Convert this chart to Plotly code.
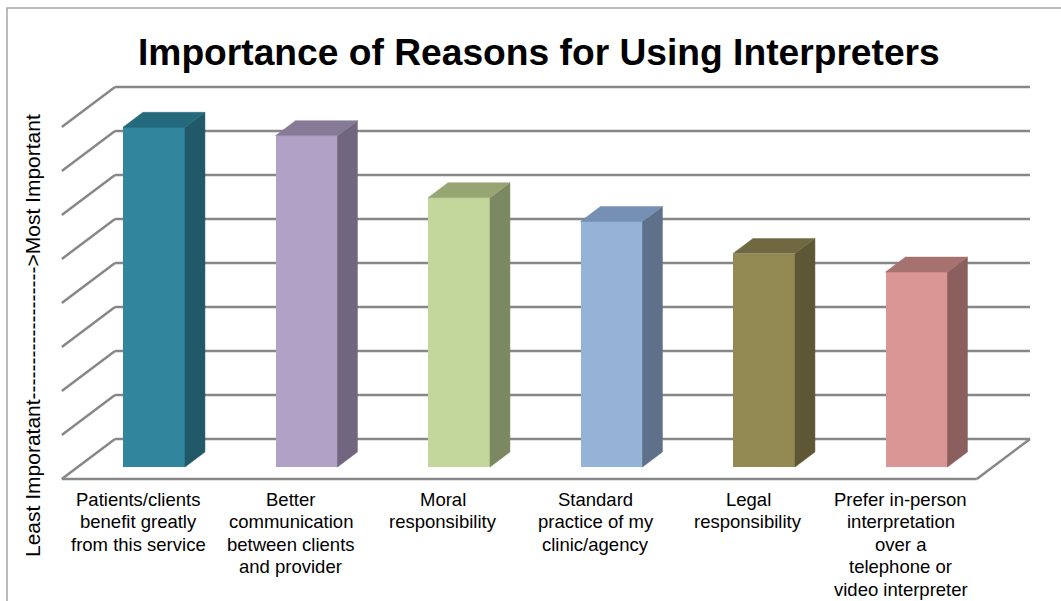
import plotly.graph_objects as go

# ---------------- data ----------------
categories = [
    "Patients/clients<br>benefit greatly<br>from this service",
    "Better<br>communication<br>between clients<br>and provider",
    "Moral<br>responsibility",
    "Standard<br>practice of my<br>clinic/agency",
    "Legal<br>responsibility",
    "Prefer in-person<br>interpretation<br>over a<br>telephone or<br>video interpreter",
]
values = [7.72, 7.53, 6.12, 5.58, 4.85, 4.43]
grid_levels = [0, 1, 2, 3, 4, 5, 6, 7, 8]

front_colors = ["#31859C", "#B2A1C7", "#C3D69B", "#95B3D7", "#938953", "#D99694"]
side_colors = ["#215968", "#71667F", "#7C8862", "#5F718A", "#5E5735", "#8B5F5E"]
top_colors = ["#256A7C", "#877A96", "#96A572", "#7590B3", "#6F6840", "#A67270"]

title = "Importance of Reasons for Using Interpreters"
ytitle = "Least Imporatant" + "-" * 19 + "&gt;Most Important"

# ---------------- geometry (oblique 3D projection) ----------------
W, H = 1061, 601
PX_PER_CAT = 152.5      # pixels per category on bar front plane
PX_PER_UNIT = 44.0      # pixels per value unit
X0_PX, Y0_PX = 154.0, 467.0  # pixel of category 0 / value 0 on bar front plane
SLANT = 1.33            # horizontal px per vertical px of depth

def depth(d_px):
    return d_px * SLANT / PX_PER_CAT, d_px / PX_PER_UNIT

fx, fy = depth(-12)   # floor front edge (in front of bars)
bx, by = depth(28)    # back wall
dxb, dyb = depth(15)  # bar depth
half_w = 0.2033

x_range = [(0 - X0_PX) / PX_PER_CAT, (W - X0_PX) / PX_PER_CAT]
y_range = [(Y0_PX - H) / PX_PER_UNIT, Y0_PX / PX_PER_UNIT]

n = len(values)
left, right = -0.5, n - 0.5

grid_color = "#878787"
shapes = []
for k in grid_levels:
    shapes.append(dict(type="line", xref="x", yref="y", layer="below",
                       x0=left + bx, y0=k + by, x1=right + bx, y1=k + by,
                       line=dict(color=grid_color, width=2.5)))
    shapes.append(dict(type="line", xref="x", yref="y", layer="below",
                       x0=left + fx, y0=k + fy, x1=left + bx, y1=k + by,
                       line=dict(color=grid_color, width=2.5)))
shapes.append(dict(type="line", xref="x", yref="y", layer="below",
                   x0=left + fx, y0=fy, x1=right + fx, y1=fy,
                   line=dict(color=grid_color, width=2.5)))
shapes.append(dict(type="line", xref="x", yref="y", layer="below",
                   x0=right + fx, y0=fy, x1=right + bx, y1=by,
                   line=dict(color=grid_color, width=2.5)))
shapes.append(dict(type="rect", xref="paper", yref="paper", layer="above",
                   x0=7 / W, y0=-0.05, x1=1.05, y1=1 - 8 / H,
                   line=dict(color="#A6A6A6", width=1.5)))

fig = go.Figure()

fig.add_trace(go.Bar(
    x=list(range(n)), y=values, width=2 * half_w,
    marker=dict(color=front_colors, line=dict(width=0)),
    hoverinfo="skip", showlegend=False,
))

for i, v in enumerate(values):
    xs = [i + half_w, i + half_w + dxb, i + half_w + dxb, i + half_w, i + half_w]
    ys = [0, dyb, v + dyb, v, 0]
    fig.add_trace(go.Scatter(x=xs, y=ys, mode="lines", fill="toself",
                             fillcolor=side_colors[i],
                             line=dict(color=side_colors[i], width=0.5),
                             hoverinfo="skip", showlegend=False))
    xs = [i - half_w, i - half_w + dxb, i + half_w + dxb, i + half_w, i - half_w]
    ys = [v, v + dyb, v + dyb, v, v]
    fig.add_trace(go.Scatter(x=xs, y=ys, mode="lines", fill="toself",
                             fillcolor=top_colors[i],
                             line=dict(color=top_colors[i], width=0.5),
                             hoverinfo="skip", showlegend=False))

font_family = "Arial, 'Liberation Sans', sans-serif"
annotations = []
LINE_PX = 22.6
for i, c in enumerate(categories):
    for j, line in enumerate(c.split("<br>")):
        annotations.append(dict(x=i + fx, y=1 - (499 + LINE_PX * j) / H,
                                xref="x", yref="paper",
                                text=line, showarrow=False, xanchor="center",
                                yanchor="middle",
                                font=dict(family=font_family, size=18.5, color="#000000")))
annotations.append(dict(x=539 / W, y=1 - 52 / H, xref="paper", yref="paper",
                        text="<b>" + title + "</b>", showarrow=False,
                        xanchor="center", yanchor="middle",
                        font=dict(family=font_family, size=37.2, color="#000000")))
annotations.append(dict(x=33 / W, y=1 - 336 / H, xref="paper", yref="paper",
                        text=ytitle, textangle=-90, showarrow=False,
                        xanchor="center", yanchor="middle",
                        font=dict(family=font_family, size=21, color="#000000")))

fig.update_layout(
    width=W, height=H,
    margin=dict(l=0, r=0, t=0, b=0),
    paper_bgcolor="white", plot_bgcolor="white",
    xaxis=dict(range=x_range, visible=False, fixedrange=True),
    yaxis=dict(range=y_range, visible=False, fixedrange=True),
    shapes=shapes, annotations=annotations,
    showlegend=False, bargap=0,
)

fig.write_html("out.html")
